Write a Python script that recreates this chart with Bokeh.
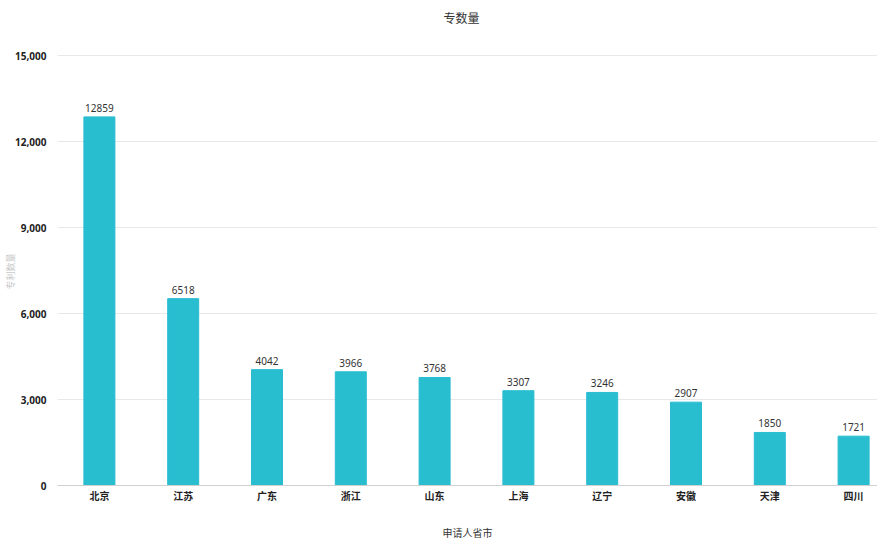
from bokeh.plotting import figure
from bokeh.models import ColumnDataSource, Range1d, FixedTicker, NumeralTickFormatter, LabelSet, Label, Title
from bokeh.core.properties import value
from bokeh.embed import file_html
from bokeh.resources import INLINE

provinces = ["北京", "江苏", "广东", "浙江", "山东", "上海", "辽宁", "安徽", "天津", "四川"]
counts = [12859, 6518, 4042, 3966, 3768, 3307, 3246, 2907, 1850, 1721]
y_ticks = [0, 3000, 6000, 9000, 12000, 15000]
title_text = "专数量"
y_title = "专利数量"
x_title = "申请人省市"

FONT = "Noto Sans CJK SC"
NUM_FONT = "Noto Sans"

src = ColumnDataSource(dict(x=list(range(len(provinces))), y=counts,
                            lab=[str(c) for c in counts]))

W, H = 877, 542
LEFT, BOTTOM = 57, 57
frame_w, frame_h = W - LEFT, H - BOTTOM
X0 = -0.5
X1 = X0 + frame_w / 83.8
Y0 = 0
uy = 15000 / 430.0                 # data units per pixel
Y1 = 15000 + 55 * uy               # leave room for the title inside the frame

p = figure(width=W, height=H, output_backend="svg", toolbar_location=None,
           x_range=Range1d(X0, X1), y_range=Range1d(Y0, Y1),
           min_border_left=LEFT, min_border_right=0, min_border_top=0, min_border_bottom=BOTTOM)
p.outline_line_color = None

p.vbar(x="x", top="y", width=0.37, source=src, color="#29BDD0")
p.add_layout(LabelSet(x="x", y="y", text="lab", source=src, text_align="center",
                      text_baseline="bottom", y_offset=5, text_font_size="10px",
                      text_font=value(NUM_FONT), text_color="#333333"))

ux = (X1 - X0) / frame_w
p.add_layout(Label(x=X0 + 404 * ux, y=15000 + 38 * uy, text=title_text, text_align="center",
                   text_baseline="middle", text_font=FONT, text_font_size="12px",
                   text_color="#333333"))

# y-axis title, placed near the middle of the 0..15000 band
p.add_layout(Title(text=y_title, align="left", offset=196, standoff=-9,
                   text_font=FONT, text_font_style="normal", text_font_size="9px",
                   text_color="#c8c8c8"), "left")

p.yaxis.ticker = FixedTicker(ticks=y_ticks)
p.yaxis.formatter = NumeralTickFormatter(format="0,0")
p.yaxis.axis_line_color = None
p.yaxis.major_tick_line_color = None
p.yaxis.minor_tick_line_color = None
p.yaxis.major_label_text_font = NUM_FONT
p.yaxis.major_label_text_font_style = "bold"
p.yaxis.major_label_text_font_size = "10px"
p.yaxis.major_label_text_color = "#222222"
p.yaxis.major_label_standoff = 5

p.xaxis.ticker = FixedTicker(ticks=list(range(len(provinces))))
p.xaxis.major_label_overrides = {i: n for i, n in enumerate(provinces)}
p.xaxis.axis_line_color = "#d0d0d0"
p.xaxis.major_tick_line_color = None
p.xaxis.minor_tick_line_color = None
p.xaxis.major_label_text_font = FONT
p.xaxis.major_label_text_font_style = "bold"
p.xaxis.major_label_text_font_size = "10px"
p.xaxis.major_label_text_color = "#222222"
p.xaxis.major_label_standoff = -4
p.xaxis.axis_label = x_title
p.xaxis.axis_label_text_font = FONT
p.xaxis.axis_label_text_font_style = "normal"
p.xaxis.axis_label_text_font_size = "10px"
p.xaxis.axis_label_text_color = "#333333"
p.xaxis.axis_label_standoff = 19

p.xgrid.grid_line_color = None
p.ygrid.grid_line_color = "#e8e8e8"

open("out.html", "w").write(file_html(p, INLINE))
